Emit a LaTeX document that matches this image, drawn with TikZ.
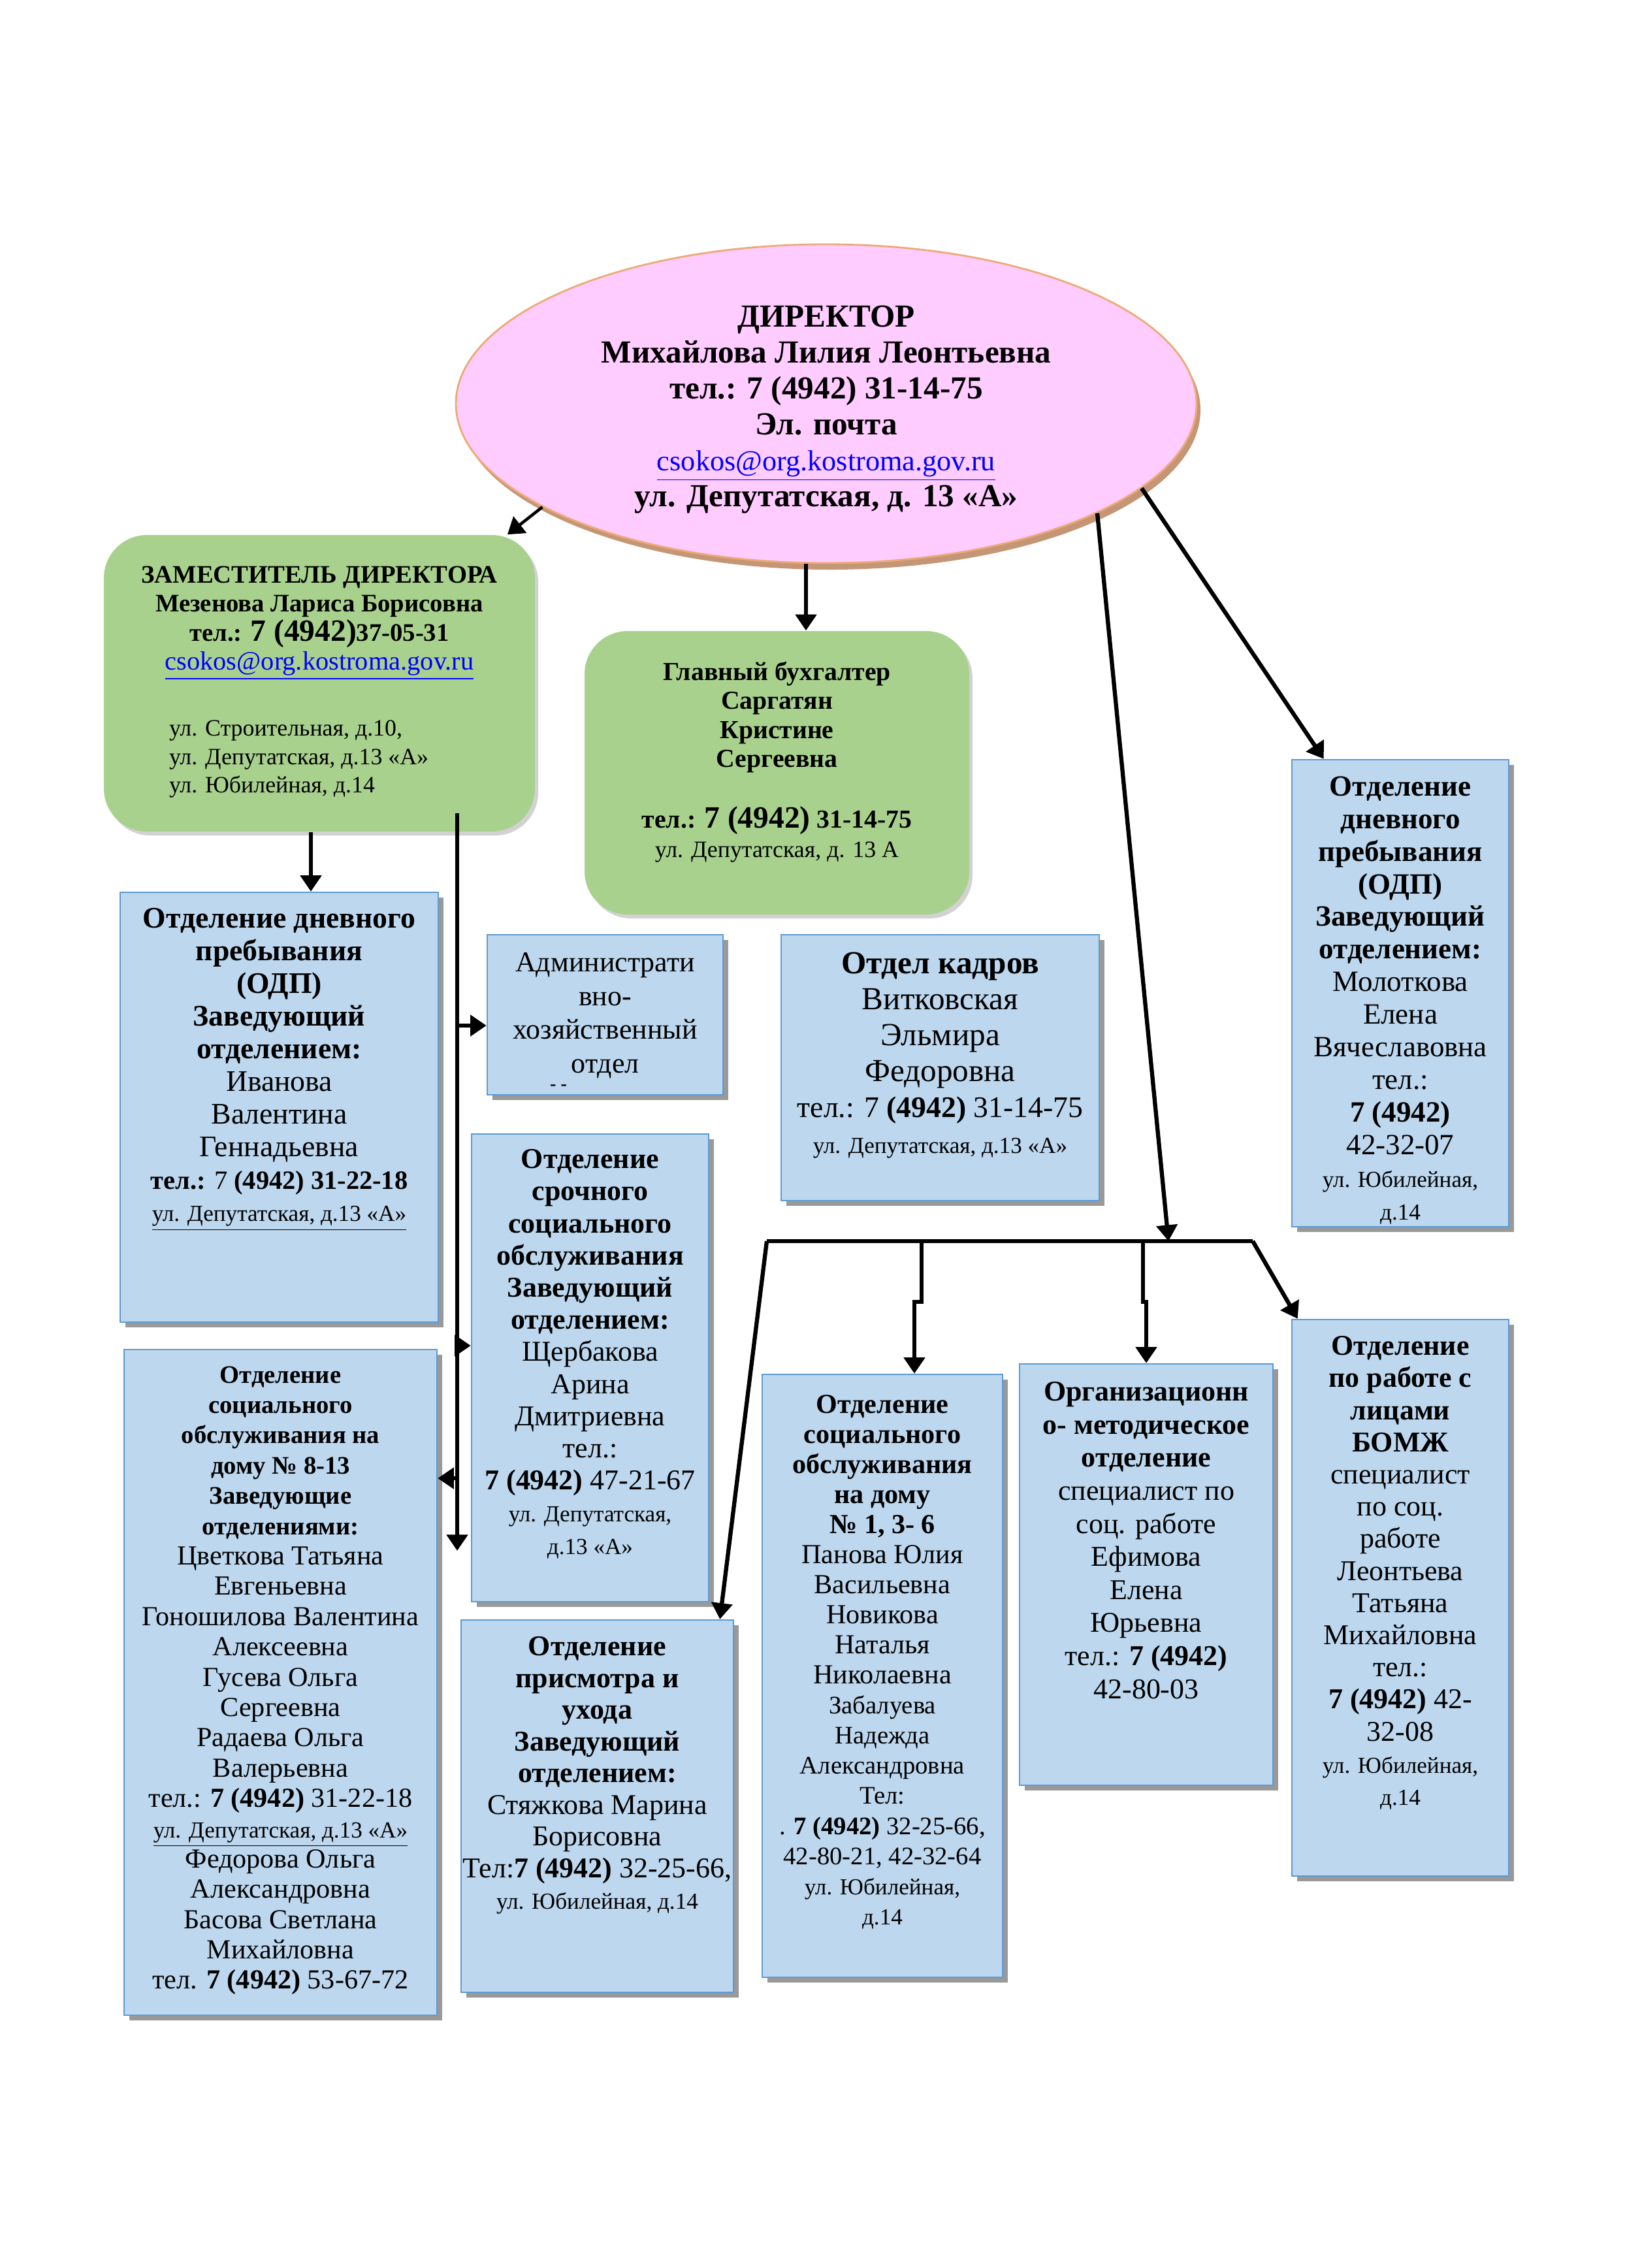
\documentclass[tikz,border=0pt]{standalone}
\usepackage{fontspec}
\setmainfont{Liberation Serif}
\usetikzlibrary{positioning,shapes.geometric,shadows,arrows.meta,fit}

\definecolor{dirfill}{RGB}{255,204,255}
\definecolor{dirline}{RGB}{237,170,120}
\definecolor{dirshade}{RGB}{196,150,118}
\definecolor{greenfill}{RGB}{169,209,142}
\definecolor{bluefill}{RGB}{189,215,238}
\definecolor{blueline}{RGB}{91,155,213}
\definecolor{linkblue}{RGB}{0,0,255}

\newcommand{\fsz}[2]{\fontsize{#1}{#2}\selectfont}
\newcommand{\mail}[1]{\textcolor{linkblue}{\underline{#1}}}
\newcommand{\rgl}{\mdseries}
\newcommand{\adl}{\mdseries\fsz{10}{12}}
\newcommand{\hbl}{\bfseries\fsz{11}{13}}

\tikzset{
  dirnode/.style={ellipse, draw=dirline, line width=0.8pt, fill=dirfill,
    minimum width=11.34cm, minimum height=4.88cm, inner sep=0pt,
    drop shadow={shadow xshift=0.06cm, shadow yshift=-0.1cm, fill=dirshade, opacity=1}},
  greenbox/.style={fill=greenfill, rounded corners=0.66cm, inner sep=0pt,
    drop shadow={shadow xshift=0.05cm, shadow yshift=-0.06cm, fill=gray, opacity=0.35}},
  bluebox/.style={draw=blueline, line width=0.7pt, fill=bluefill, inner sep=0pt,
    drop shadow={shadow xshift=0.08cm, shadow yshift=-0.08cm, fill=gray!80, opacity=1}},
  txt/.style={align=center, inner sep=0pt, font=\bfseries\fsz{12.5}{14.2}},
  arr/.style={line width=1.8pt, -{Triangle[length=7pt, width=9pt]}},
  conn/.style={line width=1.8pt},
}

\begin{document}
\begin{tikzpicture}

    % page
    \fill[white] (0,0) rectangle (24.87,-34.72);
    \useasboundingbox (0,0) rectangle (24.87,-34.72);

    % Director ellipse
    \node[dirnode] (dir) at (12.65,-6.18) {};
    \node[txt, font=\bfseries\fsz{14}{15.6}] (dir-t) at ([yshift=-0.09cm]dir.center)
      {ДИРЕКТОР\\ Михайлова Лилия Леонтьевна\\ тел.: 7 (4942) 31-14-75\\ Эл. почта\\
       \mdseries\fsz{12.6}{15}\mail{csokos@org.kostroma.gov.ru}\\ ул. Депутатская, д. 13 «А»};

    % green boxes
    \node[greenbox, fit={(1.59,-8.19) (8.19,-12.73)}] (dep) {};
    \node[greenbox, fit={(8.95,-9.66) (14.84,-14.00)}] (acc) {};

    % blue boxes
    \node[bluebox, fit={(1.84,-13.66) (6.71,-20.24)}] (odpL) {};
    \node[bluebox, fit={(7.46,-14.31) (11.07,-16.76)}] (aho) {};
    \node[bluebox, fit={(11.96,-14.31) (16.83,-18.38)}] (kadr) {};
    \node[bluebox, fit={(19.78,-11.63) (23.10,-18.78)}] (odpR) {};
    \node[bluebox, fit={(7.22,-17.36) (10.85,-24.52)}] (urg) {};
    \node[bluebox, fit={(1.90,-20.66) (6.69,-30.85)}] (home8) {};
    \node[bluebox, fit={(7.06,-24.80) (11.23,-30.50)}] (care) {};
    \node[bluebox, fit={(11.67,-21.04) (15.35,-30.27)}] (home1) {};
    \node[bluebox, fit={(15.61,-20.88) (19.49,-27.33)}] (org) {};
    \node[bluebox, fit={(19.78,-20.20) (23.10,-28.72)}] (bomj) {};

    % texts
    \node[txt, below=0.48cm of dep.north, font=\bfseries\fsz{11}{12.6}] (dep-t)
      {ЗАМЕСТИТЕЛЬ ДИРЕКТОРА\\ Мезенова Лариса Борисовна\\
       тел.: {\fsz{13.5}{15}7 (4942)}37-05-31\\ \mdseries\fsz{11.5}{13}\mail{csokos@org.kostroma.gov.ru}};
    \node[txt, anchor=north west, align=left, font=\fsz{10.2}{12.3}] (dep-a)
      at ([xshift=1.0cm, yshift=-2.84cm]dep.north west)
      {ул. Строительная, д.10,\\ ул. Депутатская, д.13 «А»\\ ул. Юбилейная, д.14};

    \node[txt, below=0.47cm of acc.north, font=\bfseries\fsz{11.3}{12.6}] (acc-t)
      {Главный бухгалтер\\ Саргатян\\ Кристине\\ Сергеевна\\[14pt]
       тел.: {\fsz{13.5}{15}7 (4942)} 31-14-75\\ \mdseries\fsz{10.2}{12}ул. Депутатская, д. 13 А};

    \node[txt, below=0.25cm of odpL.north, font=\bfseries\fsz{13}{14.2}] (odpL-t)
      {Отделение дневного\\ пребывания\\ (ОДП)\\ Заведующий\\ отделением:\\
       \rgl Иванова\\ \rgl Валентина\\ \rgl Геннадьевна\\
       \fsz{11.5}{13}тел.: {\mdseries 7} (4942) 31-22-18\\ \adl\underline{ул. Депутатская, д.13 «А»}};

    \node[txt, below=0.28cm of aho.north, font=\fsz{12.5}{14.7}] (aho-t)
      {Администрати\\ вно-\\ хозяйственный\\ отдел};
    \node[txt, anchor=base, font=\bfseries\fsz{8}{9}] (aho-d) at (8.55,-16.68) {- -};

    \node[txt, below=0.27cm of kadr.north, font=\fsz{14}{15.7}] (kadr-t)
      {\bfseries Отдел кадров\\ Витковская\\ Эльмира\\ Федоровна\\
       \fsz{13}{15}тел.: 7 \textbf{(4942)} 31-14-75\\ \fsz{10}{12}ул. Депутатская, д.13 «А»};

    \node[txt, below=0.26cm of odpR.north, font=\bfseries\fsz{12.8}{14.2}] (odpR-t)
      {Отделение\\ дневного\\ пребывания\\ (ОДП)\\ Заведующий\\ отделением:\\
       \rgl Молоткова\\ \rgl Елена\\ \rgl Вячеславовна\\ \rgl тел.:\\ 7 (4942)\\ \rgl 42-32-07\\
       \adl ул. Юбилейная,\\ \adl д.14};

    \node[txt, below=0.24cm of urg.north, font=\bfseries\fsz{12.5}{14}] (urg-t)
      {Отделение\\ срочного\\ социального\\ обслуживания\\ Заведующий\\ отделением:\\
       \rgl Щербакова\\ \rgl Арина\\ \rgl Дмитриевна\\ \rgl тел.:\\ 7 (4942) {\mdseries 47-21-67}\\
       \adl ул. Депутатская,\\ \adl д.13 «А»};

    \node[txt, below=0.26cm of home8.north, font=\fsz{12}{13.2}] (home8-t)
      {\hbl Отделение\\ \hbl социального\\ \hbl обслуживания на\\ \hbl дому № 8-13\\
       \hbl Заведующие\\ \hbl отделениями:\\
       Цветкова Татьяна\\ Евгеньевна\\ Гоношилова Валентина\\ Алексеевна\\ Гусева Ольга\\ Сергеевна\\
       Радаева Ольга\\ Валерьевна\\ тел.: \textbf{7 (4942)} 31-22-18\\
       \adl\underline{ул. Депутатская, д.13 «А»}\\
       Федорова Ольга\\ Александровна\\ Басова Светлана\\ Михайловна\\ тел. \textbf{7 (4942)} 53-67-72};

    \node[txt, below=0.26cm of care.north, font=\bfseries\fsz{12.5}{13.8}] (care-t)
      {Отделение\\ присмотра и\\ ухода\\ Заведующий\\ отделением:\\
       \rgl Стяжкова Марина\\ \rgl Борисовна\\ \rgl Тел:\textbf{7 (4942)} 32-25-66,\\
       \adl ул. Юбилейная, д.14};

    \node[txt, below=0.32cm of home1.north, font=\bfseries\fsz{12}{13.1}] (home1-t)
      {Отделение\\ социального\\ обслуживания\\ на дому\\ № 1, 3- 6\\
       \rgl Панова Юлия\\ \rgl Васильевна\\ \rgl Новикова\\ \rgl Наталья\\ \rgl Николаевна\\
       \rgl\fsz{11}{13}Забалуева\\ \rgl\fsz{11}{13}Надежда\\ \rgl\fsz{11}{13}Александровна\\
       \rgl\fsz{11}{13}Тел:\\ \rgl\fsz{11}{13}. \textbf{7 (4942)} 32-25-66,\\
       \rgl\fsz{11}{13}42-80-21, 42-32-64\\ \adl ул. Юбилейная,\\ \adl д.14};

    \node[txt, below=0.28cm of org.north, font=\bfseries\fsz{12.5}{14.4}] (org-t)
      {Организационн\\ о- методическое\\ отделение\\
       \rgl специалист по\\ \rgl соц. работе\\ \rgl Ефимова\\ \rgl Елена\\ \rgl Юрьевна\\
       \rgl тел.: \textbf{7 (4942)}\\ \rgl 42-80-03};

    \node[txt, below=0.26cm of bomj.north, font=\bfseries\fsz{12.5}{14}] (bomj-t)
      {Отделение\\ по работе с\\ лицами\\ БОМЖ\\
       \rgl специалист\\ \rgl по соц.\\ \rgl работе\\ \rgl Леонтьева\\ \rgl Татьяна\\ \rgl Михайловна\\
       \rgl тел.:\\ 7 (4942) {\mdseries 42-}\\ \rgl 32-08\\ \adl ул. Юбилейная,\\ \adl д.14};

    % bus and branch points
    \coordinate (busL) at (11.74,-19.00);
    \coordinate (busR) at (19.18,-19.00);
    \coordinate (busM) at (17.89,-19.00);
    \coordinate (j1) at (14.11,-19.00);
    \coordinate (j2) at (17.50,-19.00);
    \coordinate (sp0) at (7.00,-12.45);
    \coordinate (sp1) at (7.00,-23.74);
    \coordinate (b1) at (7.00,-15.70);
    \coordinate (b2) at (7.00,-20.60);
    \coordinate (b3) at (7.00,-22.63);

    % director links
    \draw[arr, line width=1.3pt] (dir.200) -- (dep);
    \draw[arr] ([xshift=-0.31cm]dir.south) -- ([xshift=-0.31cm]dir.south |- acc.north);
    \draw[arr] (dir.345) -- ([xshift=0.5cm]odpR.north west);
    \draw[arr] (dir.338) -- (busM);

    % bus
    \draw[conn] (busL) -- (busR);
    \draw[arr] (busR) -- ([xshift=0.1cm]bomj.north west);
    \draw[arr] (busL) -- ([xshift=-0.22cm]care.north east);
    \draw[arr] (j1) -- ++(0,-0.93) -| ([xshift=0.49cm]home1.north);
    \draw[arr] (j2) -- ++(0,-0.93) -| (org.north);

    % deputy links
    \draw[arr] ([xshift=-0.13cm]dep.south) -- ([xshift=-0.13cm]dep.south |- odpL.north);
    \draw[arr] (sp0) -- (sp1);
    \draw[arr] (b1) -- (b1 -| aho.west);
    \draw[arr] (b2) -- (b2 -| urg.west);
    \draw[arr] (b3) -- (b3 -| home8.east);

\end{tikzpicture}
\end{document}
